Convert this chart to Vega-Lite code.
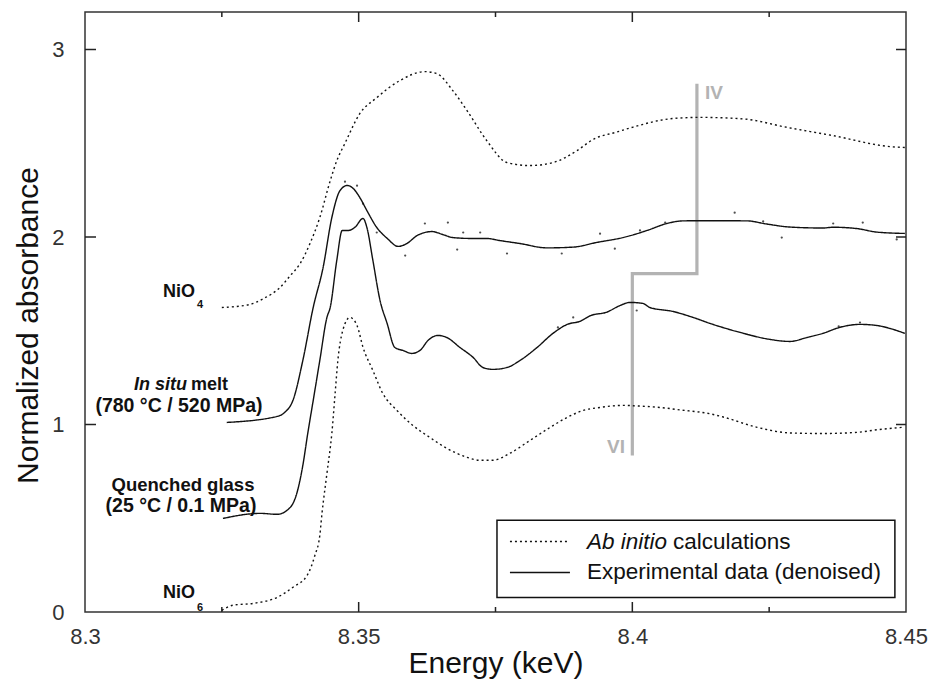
{
  "$schema": "https://vega.github.io/schema/vega-lite/v6.json",
  "width": 821,
  "height": 600,
  "autosize": {"type": "none"},
  "padding": {"left": 85, "top": 12, "right": 26, "bottom": 77},
  "background": "white",
  "config": {
    "view": {"stroke": "#333333", "strokeWidth": 1.5},
    "font": "Liberation Sans",
    "axis": {"grid": false, "domain": false, "ticks": false, "labelColor": "#333333", "titleColor": "#111111", "labelFont": "Liberation Sans", "titleFont": "Liberation Sans", "titleFontWeight": "normal", "labelFontSize": 22, "titleFontSize": 30}
  },
  "datasets": {
    "curves": [
      {"s": "NiO4", "k": "calc", "e": 8.325, "a": 1.624},
      {"s": "NiO4", "k": "calc", "e": 8.3301, "a": 1.640},
      {"s": "NiO4", "k": "calc", "e": 8.3325, "a": 1.670},
      {"s": "NiO4", "k": "calc", "e": 8.3356, "a": 1.730},
      {"s": "NiO4", "k": "calc", "e": 8.3375, "a": 1.794},
      {"s": "NiO4", "k": "calc", "e": 8.3393, "a": 1.858},
      {"s": "NiO4", "k": "calc", "e": 8.3411, "a": 1.965},
      {"s": "NiO4", "k": "calc", "e": 8.3429, "a": 2.104},
      {"s": "NiO4", "k": "calc", "e": 8.3448, "a": 2.300},
      {"s": "NiO4", "k": "calc", "e": 8.3460, "a": 2.407},
      {"s": "NiO4", "k": "calc", "e": 8.3475, "a": 2.500},
      {"s": "NiO4", "k": "calc", "e": 8.3502, "a": 2.658},
      {"s": "NiO4", "k": "calc", "e": 8.3533, "a": 2.743},
      {"s": "NiO4", "k": "calc", "e": 8.3575, "a": 2.834},
      {"s": "NiO4", "k": "calc", "e": 8.3621, "a": 2.882},
      {"s": "NiO4", "k": "calc", "e": 8.3643, "a": 2.871},
      {"s": "NiO4", "k": "calc", "e": 8.3672, "a": 2.781},
      {"s": "NiO4", "k": "calc", "e": 8.3698, "a": 2.674},
      {"s": "NiO4", "k": "calc", "e": 8.3734, "a": 2.514},
      {"s": "NiO4", "k": "calc", "e": 8.3771, "a": 2.397},
      {"s": "NiO4", "k": "calc", "e": 8.3813, "a": 2.381},
      {"s": "NiO4", "k": "calc", "e": 8.3855, "a": 2.397},
      {"s": "NiO4", "k": "calc", "e": 8.3899, "a": 2.461},
      {"s": "NiO4", "k": "calc", "e": 8.3928, "a": 2.520},
      {"s": "NiO4", "k": "calc", "e": 8.3972, "a": 2.560},
      {"s": "NiO4", "k": "calc", "e": 8.4000, "a": 2.585},
      {"s": "NiO4", "k": "calc", "e": 8.4074, "a": 2.632},
      {"s": "NiO4", "k": "calc", "e": 8.4123, "a": 2.638},
      {"s": "NiO4", "k": "calc", "e": 8.4202, "a": 2.630},
      {"s": "NiO4", "k": "calc", "e": 8.4282, "a": 2.585},
      {"s": "NiO4", "k": "calc", "e": 8.4366, "a": 2.541},
      {"s": "NiO4", "k": "calc", "e": 8.4471, "a": 2.482},
      {"s": "NiO4", "k": "calc", "e": 8.45, "a": 2.477},

      {"s": "In situ melt", "k": "exp", "e": 8.3259, "a": 1.011},
      {"s": "In situ melt", "k": "exp", "e": 8.3351, "a": 1.043},
      {"s": "In situ melt", "k": "exp", "e": 8.3365, "a": 1.065},
      {"s": "In situ melt", "k": "exp", "e": 8.3380, "a": 1.129},
      {"s": "In situ melt", "k": "exp", "e": 8.3398, "a": 1.342},
      {"s": "In situ melt", "k": "exp", "e": 8.3417, "a": 1.625},
      {"s": "In situ melt", "k": "exp", "e": 8.3435, "a": 1.837},
      {"s": "In situ melt", "k": "exp", "e": 8.3451, "a": 2.104},
      {"s": "In situ melt", "k": "exp", "e": 8.3466, "a": 2.248},
      {"s": "In situ melt", "k": "exp", "e": 8.3479, "a": 2.275},
      {"s": "In situ melt", "k": "exp", "e": 8.3490, "a": 2.259},
      {"s": "In situ melt", "k": "exp", "e": 8.3502, "a": 2.211},
      {"s": "In situ melt", "k": "exp", "e": 8.3515, "a": 2.141},
      {"s": "In situ melt", "k": "exp", "e": 8.3533, "a": 2.051},
      {"s": "In situ melt", "k": "exp", "e": 8.3552, "a": 1.993},
      {"s": "In situ melt", "k": "exp", "e": 8.3572, "a": 1.950},
      {"s": "In situ melt", "k": "exp", "e": 8.3588, "a": 1.965},
      {"s": "In situ melt", "k": "exp", "e": 8.3607, "a": 2.008},
      {"s": "In situ melt", "k": "exp", "e": 8.3634, "a": 2.029},
      {"s": "In situ melt", "k": "exp", "e": 8.3654, "a": 2.013},
      {"s": "In situ melt", "k": "exp", "e": 8.3672, "a": 1.997},
      {"s": "In situ melt", "k": "exp", "e": 8.3709, "a": 1.992},
      {"s": "In situ melt", "k": "exp", "e": 8.3734, "a": 1.992},
      {"s": "In situ melt", "k": "exp", "e": 8.3758, "a": 1.981},
      {"s": "In situ melt", "k": "exp", "e": 8.3795, "a": 1.965},
      {"s": "In situ melt", "k": "exp", "e": 8.3844, "a": 1.942},
      {"s": "In situ melt", "k": "exp", "e": 8.3892, "a": 1.946},
      {"s": "In situ melt", "k": "exp", "e": 8.3935, "a": 1.971},
      {"s": "In situ melt", "k": "exp", "e": 8.3983, "a": 1.997},
      {"s": "In situ melt", "k": "exp", "e": 8.4027, "a": 2.035},
      {"s": "In situ melt", "k": "exp", "e": 8.4063, "a": 2.072},
      {"s": "In situ melt", "k": "exp", "e": 8.4093, "a": 2.086},
      {"s": "In situ melt", "k": "exp", "e": 8.4136, "a": 2.087},
      {"s": "In situ melt", "k": "exp", "e": 8.4209, "a": 2.086},
      {"s": "In situ melt", "k": "exp", "e": 8.4246, "a": 2.069},
      {"s": "In situ melt", "k": "exp", "e": 8.4288, "a": 2.053},
      {"s": "In situ melt", "k": "exp", "e": 8.4348, "a": 2.048},
      {"s": "In situ melt", "k": "exp", "e": 8.4367, "a": 2.052},
      {"s": "In situ melt", "k": "exp", "e": 8.4410, "a": 2.045},
      {"s": "In situ melt", "k": "exp", "e": 8.4447, "a": 2.026},
      {"s": "In situ melt", "k": "exp", "e": 8.4498, "a": 2.019},

      {"s": "Quenched glass", "k": "exp", "e": 8.3252, "a": 0.499},
      {"s": "Quenched glass", "k": "exp", "e": 8.3320, "a": 0.526},
      {"s": "Quenched glass", "k": "exp", "e": 8.3351, "a": 0.521},
      {"s": "Quenched glass", "k": "exp", "e": 8.3375, "a": 0.558},
      {"s": "Quenched glass", "k": "exp", "e": 8.3387, "a": 0.633},
      {"s": "Quenched glass", "k": "exp", "e": 8.3398, "a": 0.782},
      {"s": "Quenched glass", "k": "exp", "e": 8.3407, "a": 0.953},
      {"s": "Quenched glass", "k": "exp", "e": 8.3417, "a": 1.129},
      {"s": "Quenched glass", "k": "exp", "e": 8.3429, "a": 1.342},
      {"s": "Quenched glass", "k": "exp", "e": 8.3442, "a": 1.571},
      {"s": "Quenched glass", "k": "exp", "e": 8.3448, "a": 1.624},
      {"s": "Quenched glass", "k": "exp", "e": 8.3460, "a": 1.875},
      {"s": "Quenched glass", "k": "exp", "e": 8.3470, "a": 2.035},
      {"s": "Quenched glass", "k": "exp", "e": 8.3481, "a": 2.035},
      {"s": "Quenched glass", "k": "exp", "e": 8.3493, "a": 2.051},
      {"s": "Quenched glass", "k": "exp", "e": 8.3508, "a": 2.099},
      {"s": "Quenched glass", "k": "exp", "e": 8.3515, "a": 2.051},
      {"s": "Quenched glass", "k": "exp", "e": 8.3526, "a": 1.875},
      {"s": "Quenched glass", "k": "exp", "e": 8.3539, "a": 1.662},
      {"s": "Quenched glass", "k": "exp", "e": 8.3552, "a": 1.539},
      {"s": "Quenched glass", "k": "exp", "e": 8.3566, "a": 1.411},
      {"s": "Quenched glass", "k": "exp", "e": 8.3581, "a": 1.395},
      {"s": "Quenched glass", "k": "exp", "e": 8.3597, "a": 1.379},
      {"s": "Quenched glass", "k": "exp", "e": 8.3612, "a": 1.395},
      {"s": "Quenched glass", "k": "exp", "e": 8.3627, "a": 1.449},
      {"s": "Quenched glass", "k": "exp", "e": 8.3645, "a": 1.475},
      {"s": "Quenched glass", "k": "exp", "e": 8.3661, "a": 1.464},
      {"s": "Quenched glass", "k": "exp", "e": 8.3685, "a": 1.411},
      {"s": "Quenched glass", "k": "exp", "e": 8.3709, "a": 1.358},
      {"s": "Quenched glass", "k": "exp", "e": 8.3727, "a": 1.304},
      {"s": "Quenched glass", "k": "exp", "e": 8.3745, "a": 1.294},
      {"s": "Quenched glass", "k": "exp", "e": 8.3771, "a": 1.304},
      {"s": "Quenched glass", "k": "exp", "e": 8.3795, "a": 1.342},
      {"s": "Quenched glass", "k": "exp", "e": 8.3826, "a": 1.411},
      {"s": "Quenched glass", "k": "exp", "e": 8.3855, "a": 1.486},
      {"s": "Quenched glass", "k": "exp", "e": 8.3882, "a": 1.535},
      {"s": "Quenched glass", "k": "exp", "e": 8.3904, "a": 1.550},
      {"s": "Quenched glass", "k": "exp", "e": 8.3923, "a": 1.580},
      {"s": "Quenched glass", "k": "exp", "e": 8.3954, "a": 1.600},
      {"s": "Quenched glass", "k": "exp", "e": 8.3977, "a": 1.634},
      {"s": "Quenched glass", "k": "exp", "e": 8.3996, "a": 1.651},
      {"s": "Quenched glass", "k": "exp", "e": 8.4019, "a": 1.646},
      {"s": "Quenched glass", "k": "exp", "e": 8.4032, "a": 1.624},
      {"s": "Quenched glass", "k": "exp", "e": 8.4074, "a": 1.603},
      {"s": "Quenched glass", "k": "exp", "e": 8.4111, "a": 1.571},
      {"s": "Quenched glass", "k": "exp", "e": 8.4142, "a": 1.539},
      {"s": "Quenched glass", "k": "exp", "e": 8.4197, "a": 1.491},
      {"s": "Quenched glass", "k": "exp", "e": 8.4251, "a": 1.454},
      {"s": "Quenched glass", "k": "exp", "e": 8.4288, "a": 1.443},
      {"s": "Quenched glass", "k": "exp", "e": 8.4319, "a": 1.464},
      {"s": "Quenched glass", "k": "exp", "e": 8.4348, "a": 1.486},
      {"s": "Quenched glass", "k": "exp", "e": 8.4379, "a": 1.518},
      {"s": "Quenched glass", "k": "exp", "e": 8.4416, "a": 1.534},
      {"s": "Quenched glass", "k": "exp", "e": 8.4447, "a": 1.528},
      {"s": "Quenched glass", "k": "exp", "e": 8.4471, "a": 1.512},
      {"s": "Quenched glass", "k": "exp", "e": 8.4498, "a": 1.486},

      {"s": "NiO6", "k": "calc", "e": 8.3250, "a": 0.009},
      {"s": "NiO6", "k": "calc", "e": 8.3270, "a": 0.036},
      {"s": "NiO6", "k": "calc", "e": 8.3307, "a": 0.046},
      {"s": "NiO6", "k": "calc", "e": 8.3351, "a": 0.078},
      {"s": "NiO6", "k": "calc", "e": 8.3380, "a": 0.132},
      {"s": "NiO6", "k": "calc", "e": 8.3406, "a": 0.196},
      {"s": "NiO6", "k": "calc", "e": 8.3420, "a": 0.302},
      {"s": "NiO6", "k": "calc", "e": 8.3429, "a": 0.409},
      {"s": "NiO6", "k": "calc", "e": 8.3433, "a": 0.526},
      {"s": "NiO6", "k": "calc", "e": 8.3442, "a": 0.739},
      {"s": "NiO6", "k": "calc", "e": 8.3451, "a": 0.953},
      {"s": "NiO6", "k": "calc", "e": 8.3457, "a": 1.166},
      {"s": "NiO6", "k": "calc", "e": 8.3462, "a": 1.342},
      {"s": "NiO6", "k": "calc", "e": 8.3471, "a": 1.502},
      {"s": "NiO6", "k": "calc", "e": 8.3484, "a": 1.571},
      {"s": "NiO6", "k": "calc", "e": 8.3497, "a": 1.528},
      {"s": "NiO6", "k": "calc", "e": 8.3508, "a": 1.411},
      {"s": "NiO6", "k": "calc", "e": 8.3526, "a": 1.288},
      {"s": "NiO6", "k": "calc", "e": 8.3544, "a": 1.166},
      {"s": "NiO6", "k": "calc", "e": 8.3570, "a": 1.075},
      {"s": "NiO6", "k": "calc", "e": 8.3599, "a": 0.995},
      {"s": "NiO6", "k": "calc", "e": 8.3630, "a": 0.931},
      {"s": "NiO6", "k": "calc", "e": 8.3661, "a": 0.873},
      {"s": "NiO6", "k": "calc", "e": 8.3698, "a": 0.825},
      {"s": "NiO6", "k": "calc", "e": 8.3722, "a": 0.809},
      {"s": "NiO6", "k": "calc", "e": 8.3745, "a": 0.809},
      {"s": "NiO6", "k": "calc", "e": 8.3776, "a": 0.846},
      {"s": "NiO6", "k": "calc", "e": 8.3813, "a": 0.915},
      {"s": "NiO6", "k": "calc", "e": 8.3850, "a": 0.985},
      {"s": "NiO6", "k": "calc", "e": 8.3881, "a": 1.038},
      {"s": "NiO6", "k": "calc", "e": 8.3910, "a": 1.075},
      {"s": "NiO6", "k": "calc", "e": 8.3941, "a": 1.091},
      {"s": "NiO6", "k": "calc", "e": 8.3983, "a": 1.102},
      {"s": "NiO6", "k": "calc", "e": 8.4008, "a": 1.099},
      {"s": "NiO6", "k": "calc", "e": 8.4050, "a": 1.091},
      {"s": "NiO6", "k": "calc", "e": 8.4087, "a": 1.078},
      {"s": "NiO6", "k": "calc", "e": 8.4142, "a": 1.057},
      {"s": "NiO6", "k": "calc", "e": 8.4166, "a": 1.040},
      {"s": "NiO6", "k": "calc", "e": 8.4228, "a": 0.985},
      {"s": "NiO6", "k": "calc", "e": 8.4288, "a": 0.955},
      {"s": "NiO6", "k": "calc", "e": 8.4348, "a": 0.952},
      {"s": "NiO6", "k": "calc", "e": 8.4410, "a": 0.958},
      {"s": "NiO6", "k": "calc", "e": 8.4447, "a": 0.972},
      {"s": "NiO6", "k": "calc", "e": 8.4494, "a": 0.985}
    ],
    "raw": [
      {"e": 8.3475, "a": 2.295},
      {"e": 8.3497, "a": 2.274},
      {"e": 8.3508, "a": 2.178},
      {"e": 8.3533, "a": 2.024},
      {"e": 8.3585, "a": 1.901},
      {"e": 8.3621, "a": 2.072},
      {"e": 8.3663, "a": 2.077},
      {"e": 8.3680, "a": 1.933},
      {"e": 8.3691, "a": 2.024},
      {"e": 8.3722, "a": 2.024},
      {"e": 8.3771, "a": 1.912},
      {"e": 8.3871, "a": 1.912},
      {"e": 8.3941, "a": 2.018},
      {"e": 8.3968, "a": 1.938},
      {"e": 8.4014, "a": 2.035},
      {"e": 8.4060, "a": 2.077},
      {"e": 8.4187, "a": 2.130},
      {"e": 8.4239, "a": 2.083},
      {"e": 8.4273, "a": 1.997},
      {"e": 8.4367, "a": 2.072},
      {"e": 8.4421, "a": 2.077},
      {"e": 8.4483, "a": 1.987},
      {"e": 8.3892, "a": 1.571},
      {"e": 8.3864, "a": 1.518},
      {"e": 8.4008, "a": 1.608},
      {"e": 8.4377, "a": 1.523},
      {"e": 8.4416, "a": 1.544}
    ],
    "marker": [
      {"i": 1, "e": 8.4, "a": 0.835},
      {"i": 2, "e": 8.4, "a": 1.805},
      {"i": 3, "e": 8.4118, "a": 1.805},
      {"i": 4, "e": 8.4118, "a": 2.818}
    ],
    "xmajor": [{"v": 8.35}, {"v": 8.4}],
    "xminor": [{"v": 8.325}, {"v": 8.375}, {"v": 8.425}],
    "ymajor": [{"v": 1}, {"v": 2}, {"v": 3}]
  },
  "layer": [
    {
      "data": {"name": "xmajor"},
      "mark": {"type": "rule", "stroke": "#222222", "strokeWidth": 1.5},
      "encoding": {
        "x": {"field": "v", "type": "quantitative", "scale": {"domain": [8.3, 8.45], "nice": false, "zero": false}},
        "y": {"datum": 0, "type": "quantitative", "scale": {"domain": [0, 3.2], "nice": false, "zero": false}},
        "y2": {"datum": 0.0533}
      }
    },
    {
      "data": {"name": "xmajor"},
      "mark": {"type": "rule", "stroke": "#222222", "strokeWidth": 1.5},
      "encoding": {
        "x": {"field": "v", "type": "quantitative"},
        "y": {"datum": 3.2, "type": "quantitative"},
        "y2": {"datum": 3.1467}
      }
    },
    {
      "data": {"name": "xminor"},
      "mark": {"type": "rule", "stroke": "#222222", "strokeWidth": 1.5},
      "encoding": {
        "x": {"field": "v", "type": "quantitative"},
        "y": {"datum": 0, "type": "quantitative"},
        "y2": {"datum": 0.0267}
      }
    },
    {
      "data": {"name": "xminor"},
      "mark": {"type": "rule", "stroke": "#222222", "strokeWidth": 1.5},
      "encoding": {
        "x": {"field": "v", "type": "quantitative"},
        "y": {"datum": 3.2, "type": "quantitative"},
        "y2": {"datum": 3.1733}
      }
    },
    {
      "data": {"name": "ymajor"},
      "mark": {"type": "rule", "stroke": "#222222", "strokeWidth": 1.5},
      "encoding": {
        "y": {"field": "v", "type": "quantitative"},
        "x": {"datum": 8.3, "type": "quantitative"},
        "x2": {"datum": 8.30201}
      }
    },
    {
      "data": {"name": "ymajor"},
      "mark": {"type": "rule", "stroke": "#222222", "strokeWidth": 1.5},
      "encoding": {
        "y": {"field": "v", "type": "quantitative"},
        "x": {"datum": 8.45, "type": "quantitative"},
        "x2": {"datum": 8.44817}
      }
    },
    {
      "data": {"name": "marker"},
      "mark": {"type": "line", "color": "#b3b3b3", "strokeWidth": 3.2, "strokeCap": "butt", "strokeJoin": "miter"},
      "encoding": {
        "x": {"field": "e", "type": "quantitative"},
        "y": {"field": "a", "type": "quantitative"},
        "order": {"field": "i", "type": "quantitative"}
      }
    },
    {
      "data": {"name": "raw"},
      "mark": {"type": "circle", "size": 5, "color": "#222222", "opacity": 0.8},
      "encoding": {
        "x": {"field": "e", "type": "quantitative"},
        "y": {"field": "a", "type": "quantitative"}
      }
    },
    {
      "data": {"name": "curves"},
      "mark": {"type": "line", "color": "#111111", "strokeWidth": 1.4, "interpolate": "monotone"},
      "encoding": {
        "x": {"field": "e", "type": "quantitative",
              "axis": {"orient": "bottom", "values": [8.3, 8.35, 8.4, 8.45], "format": "~g", "labelPadding": 14, "labelFlush": false, "title": "Energy (keV)", "titlePadding": 1}},
        "y": {"field": "a", "type": "quantitative",
              "axis": {"orient": "left", "values": [0, 1, 2, 3], "format": "d", "labelPadding": 21, "title": "Normalized absorbance", "titlePadding": 8, "titleY": 313}},
        "detail": {"field": "s", "type": "nominal"},
        "strokeDash": {"field": "k", "type": "nominal", "scale": {"domain": ["calc", "exp"], "range": [[2, 3], [1, 0]]}, "legend": null}
      }
    },
    {
      "data": {"values": [{}]},
      "mark": {"type": "rect", "fill": "white", "stroke": "#111111", "strokeWidth": 1.5},
      "encoding": {
        "x": {"datum": 8.37527, "type": "quantitative"},
        "x2": {"datum": 8.44797},
        "y": {"datum": 0.489, "type": "quantitative"},
        "y2": {"datum": 0.078}
      }
    },
    {
      "data": {"values": [{}]},
      "mark": {"type": "rule", "stroke": "#111111", "strokeWidth": 1.4, "strokeDash": [2, 3]},
      "encoding": {
        "x": {"datum": 8.37764, "type": "quantitative"},
        "x2": {"datum": 8.3886},
        "y": {"datum": 0.376, "type": "quantitative"}
      }
    },
    {
      "data": {"values": [{}]},
      "mark": {"type": "rule", "stroke": "#111111", "strokeWidth": 1.4},
      "encoding": {
        "x": {"datum": 8.37764, "type": "quantitative"},
        "x2": {"datum": 8.3886},
        "y": {"datum": 0.211, "type": "quantitative"}
      }
    },
    {
      "data": {"values": [{}]},
      "mark": {"type": "text", "text": "Ab initio", "fontStyle": "italic", "fontSize": 22.5, "align": "left", "baseline": "middle", "color": "#111111"},
      "encoding": {"x": {"datum": 8.39171, "type": "quantitative"}, "y": {"datum": 0.376, "type": "quantitative"}}
    },
    {
      "data": {"values": [{}]},
      "mark": {"type": "text", "text": "calculations", "fontSize": 22.5, "align": "left", "baseline": "middle", "color": "#111111"},
      "encoding": {"x": {"datum": 8.40742, "type": "quantitative"}, "y": {"datum": 0.376, "type": "quantitative"}}
    },
    {
      "data": {"values": [{}]},
      "mark": {"type": "text", "text": "Experimental data (denoised)", "fontSize": 22.5, "align": "left", "baseline": "middle", "color": "#111111"},
      "encoding": {"x": {"datum": 8.39171, "type": "quantitative"}, "y": {"datum": 0.211, "type": "quantitative"}}
    },
    {
      "data": {"values": [{}]},
      "mark": {"type": "text", "text": "IV", "fontSize": 19, "fontWeight": "bold", "align": "left", "baseline": "middle", "color": "#b3b3b3"},
      "encoding": {"x": {"datum": 8.41326, "type": "quantitative"}, "y": {"datum": 2.77, "type": "quantitative"}}
    },
    {
      "data": {"values": [{}]},
      "mark": {"type": "text", "text": "VI", "fontSize": 19, "fontWeight": "bold", "align": "right", "baseline": "middle", "color": "#b3b3b3"},
      "encoding": {"x": {"datum": 8.39865, "type": "quantitative"}, "y": {"datum": 0.878, "type": "quantitative"}}
    },
    {
      "data": {"values": [{}]},
      "mark": {"type": "text", "text": "NiO", "fontSize": 18, "fontWeight": "bold", "align": "center", "baseline": "middle", "color": "#111111"},
      "encoding": {"x": {"datum": 8.31717, "type": "quantitative"}, "y": {"datum": 1.709, "type": "quantitative"}}
    },
    {
      "data": {"values": [{}]},
      "mark": {"type": "text", "text": "4", "fontSize": 11, "fontWeight": "bold", "align": "center", "baseline": "middle", "color": "#111111"},
      "encoding": {"x": {"datum": 8.32101, "type": "quantitative"}, "y": {"datum": 1.640, "type": "quantitative"}}
    },
    {
      "data": {"values": [{}]},
      "mark": {"type": "text", "text": "NiO", "fontSize": 18, "fontWeight": "bold", "align": "center", "baseline": "middle", "color": "#111111"},
      "encoding": {"x": {"datum": 8.31717, "type": "quantitative"}, "y": {"datum": 0.100, "type": "quantitative"}}
    },
    {
      "data": {"values": [{}]},
      "mark": {"type": "text", "text": "6", "fontSize": 11, "fontWeight": "bold", "align": "center", "baseline": "middle", "color": "#111111"},
      "encoding": {"x": {"datum": 8.32101, "type": "quantitative"}, "y": {"datum": 0.022, "type": "quantitative"}}
    },
    {
      "data": {"values": [{}]},
      "mark": {"type": "text", "text": "In situ", "fontSize": 18, "fontWeight": "bold", "fontStyle": "italic", "align": "right", "baseline": "middle", "color": "#111111"},
      "encoding": {"x": {"datum": 8.31863, "type": "quantitative"}, "y": {"datum": 1.213, "type": "quantitative"}}
    },
    {
      "data": {"values": [{}]},
      "mark": {"type": "text", "text": "melt", "fontSize": 18, "fontWeight": "bold", "align": "left", "baseline": "middle", "color": "#111111"},
      "encoding": {"x": {"datum": 8.31936, "type": "quantitative"}, "y": {"datum": 1.213, "type": "quantitative"}}
    },
    {
      "data": {"values": [{}]},
      "mark": {"type": "text", "text": "(780 °C / 520 MPa)", "fontSize": 19.5, "fontWeight": "bold", "align": "center", "baseline": "middle", "color": "#111111"},
      "encoding": {"x": {"datum": 8.31717, "type": "quantitative"}, "y": {"datum": 1.099, "type": "quantitative"}}
    },
    {
      "data": {"values": [{}]},
      "mark": {"type": "text", "text": "Quenched glass", "fontSize": 18.5, "fontWeight": "bold", "align": "center", "baseline": "middle", "color": "#111111"},
      "encoding": {"x": {"datum": 8.3179, "type": "quantitative"}, "y": {"datum": 0.675, "type": "quantitative"}}
    },
    {
      "data": {"values": [{}]},
      "mark": {"type": "text", "text": "(25 °C / 0.1 MPa)", "fontSize": 19.5, "fontWeight": "bold", "align": "center", "baseline": "middle", "color": "#111111"},
      "encoding": {"x": {"datum": 8.31754, "type": "quantitative"}, "y": {"datum": 0.566, "type": "quantitative"}}
    }
  ]
}
